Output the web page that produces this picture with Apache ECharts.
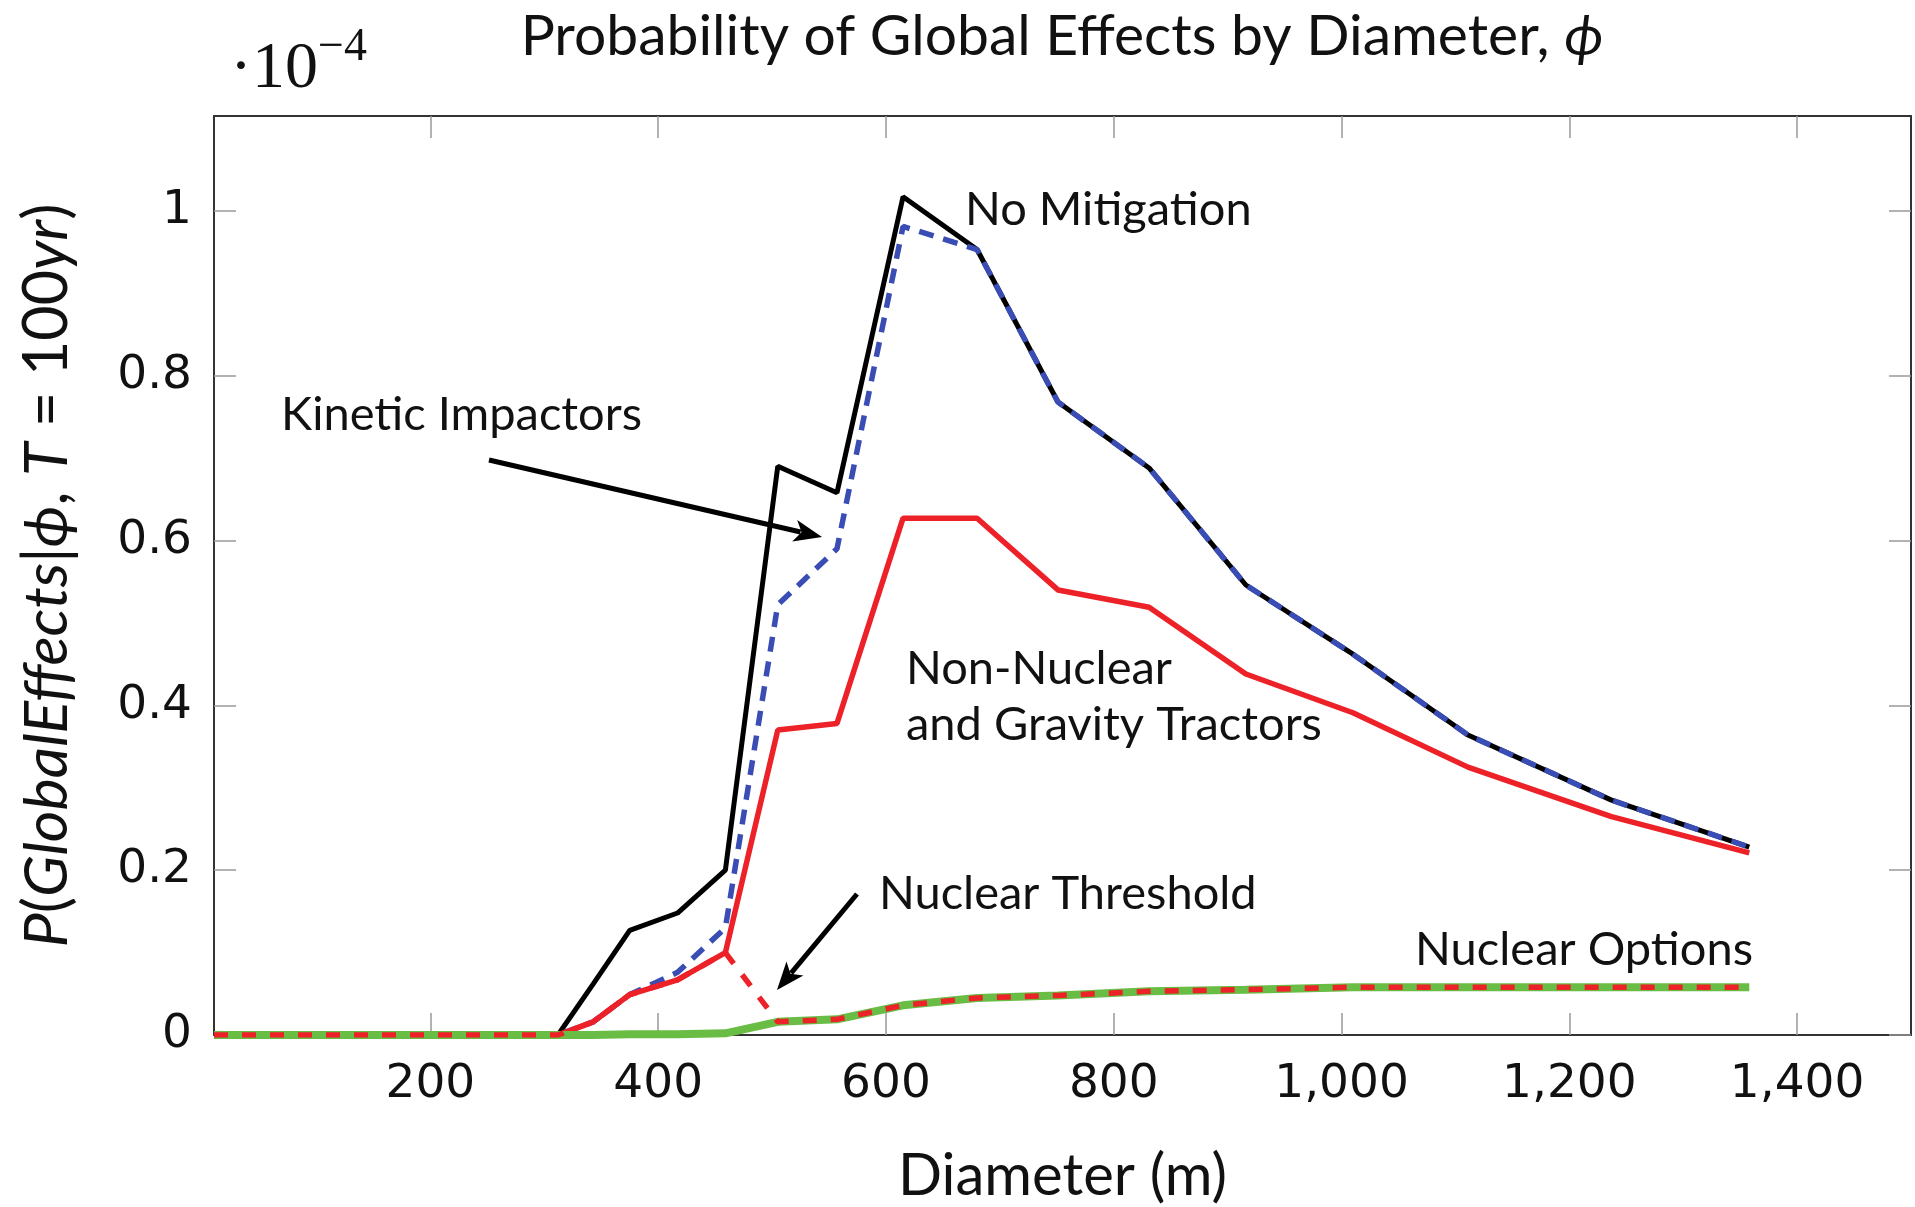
<!DOCTYPE html>
<html>
<head>
<meta charset="utf-8">
<title>Probability of Global Effects by Diameter</title>
<script src="https://cdn.jsdelivr.net/npm/echarts@6/dist/echarts.min.js"></script>
<style>
  html, body { margin: 0; padding: 0; background: #fff; overflow: hidden; }
  #chart { width: 1915px; height: 1207px; }
</style>
</head>
<body>
<div id="chart"></div>
<script>
// diameters (m) where the curves have their corners
const diameters = [10, 312, 343, 375, 417, 459, 505, 557, 615, 680, 751, 831, 916, 1010, 1111, 1237, 1358];

// values are in units of 1e-4
const noMitigation     = [0, 0, 0.062, 0.127, 0.148, 0.200, 0.690, 0.658, 1.017, 0.953, 0.768, 0.688, 0.546, 0.462, 0.364, 0.285, 0.228];
const kineticImpactors = [0, 0, 0.016, 0.049, 0.076, 0.130, 0.522, 0.590, 0.981, 0.953, 0.768, 0.688, 0.546, 0.462, 0.364, 0.285, 0.228];
const nonNuclear       = [0, 0, 0.016, 0.049, 0.067, 0.100, 0.370, 0.378, 0.627, 0.627, 0.540, 0.519, 0.438, 0.391, 0.325, 0.265, 0.221];
const nuclearOptions   = [0, 0, 0, 0.001, 0.001, 0.002, 0.016, 0.019, 0.036, 0.045, 0.048, 0.053, 0.055, 0.058, 0.058, 0.058, 0.058];
const nuclearThreshold = [0, 0, 0.016, 0.049, 0.067, 0.100, 0.016, 0.019, 0.036, 0.045, 0.048, 0.053, 0.055, 0.058, 0.058, 0.058, 0.058];

const xTicks = [200, 400, 600, 800, 1000, 1200, 1400];
const yTicks = [0, 0.2, 0.4, 0.6, 0.8, 1];

const LABEL_FONT = 'Lato';
const TICK_FONT = 'DejaVu Sans';

function pairs(values) {
    return diameters.map((d, i) => [d, values[i]]);
}

function arrow(x1, y1, x2, y2) {
    const ang = Math.atan2(y2 - y1, x2 - x1);
    const len = 28, half = 11;
    const c = Math.cos(ang), s = Math.sin(ang);
    const bx = x2 - len * c;
    const by = y2 - len * s;
    const nx = -s, ny = c;
    return [
        {
            type: 'line',
            shape: { x1: x1, y1: y1, x2: bx + 6 * c, y2: by + 6 * s },
            style: { stroke: '#000', lineWidth: 5 }
        },
        {
            type: 'polygon',
            shape: { points: [[x2, y2], [bx + nx * half, by + ny * half], [bx + 7 * c, by + 7 * s], [bx - nx * half, by - ny * half]] },
            style: { fill: '#000' }
        }
    ];
}

function label(text, x, y, align) {
    return {
        type: 'text',
        x: x,
        y: y,
        style: {
            text: text,
            fill: '#111',
            font: '47px ' + LABEL_FONT,
            align: align || 'left',
            verticalAlign: 'middle'
        }
    };
}

const chart = echarts.init(document.getElementById('chart'));

const boxLine = { show: true, onZero: false, lineStyle: { color: '#333', width: 2 } };
const tickStyle = { color: '#999', width: 1.5 };

const option = {
    backgroundColor: '#fff',
    animation: false,
    grid: { left: 214, right: 4, top: 116, bottom: 172, outerBoundsMode: 'none', containLabel: false },
    xAxis: [
        {
            type: 'value',
            min: 10,
            max: 1500,
            position: 'bottom',
            name: 'Diameter (m)',
            nameLocation: 'middle',
            nameGap: 112,
            nameTextStyle: { fontFamily: LABEL_FONT, fontSize: 58, color: '#111' },
            axisLine: boxLine,
            axisTick: { show: true, inside: true, length: 22, customValues: xTicks, lineStyle: tickStyle },
            axisLabel: {
                customValues: xTicks,
                margin: 26,
                fontFamily: TICK_FONT,
                fontSize: 47,
                color: '#111',
                formatter: v => v.toLocaleString('en-US')
            },
            splitLine: { show: false }
        },
        {
            type: 'value',
            min: 10,
            max: 1500,
            position: 'top',
            axisLine: boxLine,
            axisTick: { show: true, inside: true, length: 22, customValues: xTicks, lineStyle: tickStyle },
            axisLabel: { show: false },
            splitLine: { show: false }
        }
    ],
    yAxis: [
        {
            type: 'value',
            min: 0,
            max: 1.115,
            position: 'left',
            name: '{i|P}({i|GlobalEffects}|{i|ϕ}, {i|T} = 100{i|yr})',
            nameLocation: 'middle',
            nameGap: 136,
            nameTextStyle: {
                fontFamily: LABEL_FONT,
                fontSize: 61,
                color: '#111',
                rich: { i: { fontFamily: LABEL_FONT, fontSize: 61, fontStyle: 'italic', color: '#111' } }
            },
            axisLine: boxLine,
            axisTick: { show: true, inside: true, length: 22, customValues: yTicks, lineStyle: tickStyle },
            axisLabel: {
                customValues: yTicks,
                margin: 22,
                fontFamily: TICK_FONT,
                fontSize: 47,
                color: '#111',
                formatter: v => String(+v.toFixed(1))
            },
            splitLine: { show: false }
        },
        {
            type: 'value',
            min: 0,
            max: 1.115,
            position: 'right',
            axisLine: boxLine,
            axisTick: { show: true, inside: true, length: 22, customValues: yTicks, lineStyle: tickStyle },
            axisLabel: { show: false },
            splitLine: { show: false }
        }
    ],
    series: [
        {
            name: 'No Mitigation',
            type: 'line',
            data: pairs(noMitigation),
            showSymbol: false,
            lineStyle: { color: '#000', width: 5 }
        },
        {
            name: 'Kinetic Impactors',
            type: 'line',
            data: pairs(kineticImpactors),
            showSymbol: false,
            lineStyle: { color: '#3a4db4', width: 5.5, type: [15, 10] }
        },
        {
            name: 'Non-Nuclear and Gravity Tractors',
            type: 'line',
            data: pairs(nonNuclear),
            showSymbol: false,
            lineStyle: { color: '#ec2228', width: 5.5 }
        },
        {
            name: 'Nuclear Options',
            type: 'line',
            data: pairs(nuclearOptions),
            showSymbol: false,
            lineStyle: { color: '#69bd45', width: 8 }
        },
        {
            name: 'Nuclear Threshold',
            type: 'line',
            data: pairs(nuclearThreshold),
            showSymbol: false,
            lineStyle: { color: '#ec2228', width: 5.5, type: [14, 14] }
        }
    ],
    graphic: [
        {
            type: 'text',
            x: 1062,
            y: 37,
            style: {
                text: 'Probability of Global Effects by Diameter, {i|ϕ}',
                fill: '#111',
                font: '57px ' + LABEL_FONT,
                align: 'center',
                verticalAlign: 'middle',
                rich: { i: { fontStyle: 'italic', fontFamily: LABEL_FONT, fontSize: 57 } }
            }
        },
        {
            type: 'text',
            x: 230,
            y: 70,
            style: { text: '·10', fill: '#111', font: '66px "Liberation Serif"', align: 'left', verticalAlign: 'middle' }
        },
        {
            type: 'text',
            x: 318,
            y: 48,
            style: { text: '−4', fill: '#111', font: '46px "Liberation Serif"', align: 'left', verticalAlign: 'middle' }
        },
        label('No Mitigation', 965, 210),
        label('Kinetic Impactors', 281, 415),
        label('Non-Nuclear', 906, 669),
        label('and Gravity Tractors', 906, 725),
        label('Nuclear Threshold', 879, 894),
        label('Nuclear Options', 1753, 950, 'right'),
        ...arrow(489, 460, 822, 537),
        ...arrow(857, 894, 777, 990)
    ]
};

chart.setOption(option);
window.addEventListener('resize', () => chart.resize());
</script>
</body>
</html>
